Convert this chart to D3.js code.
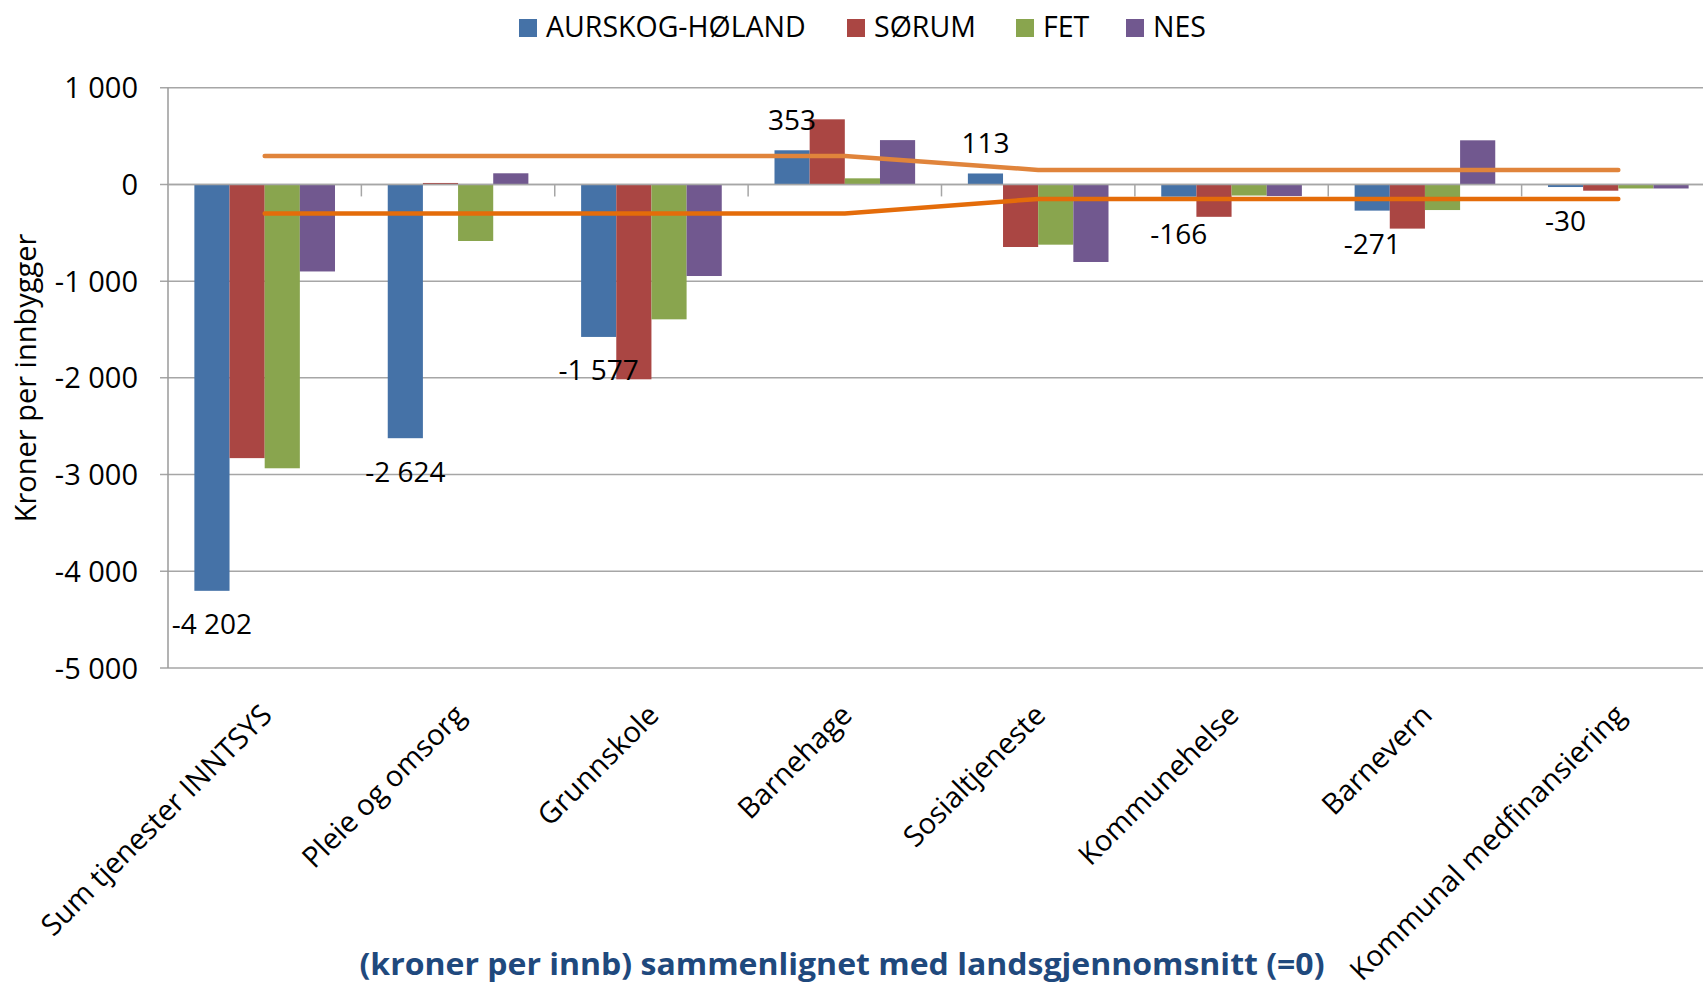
<!DOCTYPE html>
<html>
<head>
<meta charset="utf-8">
<script src="https://cdn.jsdelivr.net/npm/d3@7"></script>
<style>
  body { margin: 0; background: #fff; }
  svg { display: block; font-family: "Open Sans", sans-serif; }
</style>
</head>
<body>
<svg id="chart"></svg>
<script>
// categories along the x axis
const categories = ["Sum tjenester INNTSYS", "Pleie og omsorg", "Grunnskole", "Barnehage",
  "Sosialtjeneste", "Kommunehelse", "Barnevern", "Kommunal medfinansiering"];

const seriesNames = ["AURSKOG-HØLAND", "SØRUM", "FET", "NES"];
const seriesColors = ["#4572A7", "#AA4643", "#89A54E", "#71588F"];

// kroner per innbygger vs landsgjennomsnitt
const aurskogValues = [-4202, -2624, -1577, 353, 113, -127, -271, -27];
const sorumValues = [-2830, 15, -2015, 673, -647, -335, -457, -65];
const fetValues = [-2935, -585, -1395, 63, -623, -115, -265, -42];
const nesValues = [-900, 115, -947, 458, -802, -120, 456, -42];

// data labels shown for AURSKOG-HØLAND
const aurskogLabels = [-4202, -2624, -1577, 353, 113, -166, -271, -30];

// the two orange band lines
const upperLine = [295, 295, 295, 295, 150, 150, 150, 150];
const lowerLine = [-300, -300, -300, -300, -150, -150, -150, -150];

const yTicks = [1000, 0, -1000, -2000, -3000, -4000, -5000];

class BarLineChart {
  constructor(_config) {
    this.config = {
      parentElement: _config.parentElement,
      containerWidth: _config.containerWidth || 1703,
      containerHeight: _config.containerHeight || 985,
      plot: { left: 168, right: 1715, top: 87.7, bottom: 668 }
    };
    this.series = [aurskogValues, sorumValues, fetValues, nesValues];
    this.initVis();
  }

  initVis() {
    let vis = this;
    const p = vis.config.plot;

    vis.svg = d3.select(vis.config.parentElement)
      .attr("width", vis.config.containerWidth)
      .attr("height", vis.config.containerHeight);

    vis.xScale = d3.scaleBand()
      .domain(categories)
      .range([p.left, p.right])
      .paddingInner(0)
      .paddingOuter(0);

    // Excel style gap width 150%
    vis.xSeries = d3.scaleBand()
      .domain(seriesNames)
      .range([0, vis.xScale.bandwidth()])
      .paddingInner(0)
      .paddingOuter(0.75);

    vis.yScale = d3.scaleLinear()
      .domain([-5000, 1000])
      .range([p.bottom, p.top]);

    vis.fmt = d3.formatLocale({ decimal: ",", thousands: " ", grouping: [3], currency: ["", ""], minus: "-" }).format(",d");

    vis.updateVis();
  }

  updateVis() {
    let vis = this;
    const p = vis.config.plot;

    // gridlines
    vis.svg.append("g").attr("class", "grid")
      .selectAll("line")
      .data(yTicks)
      .join("line")
      .attr("x1", p.left - 8)
      .attr("x2", p.right)
      .attr("y1", d => vis.yScale(d))
      .attr("y2", d => vis.yScale(d))
      .attr("stroke", "#a6a6a6")
      .attr("stroke-width", 1.5);

    // y axis line
    vis.svg.append("line")
      .attr("x1", p.left).attr("x2", p.left)
      .attr("y1", p.top).attr("y2", p.bottom)
      .attr("stroke", "#9a9a9a")
      .attr("stroke-width", 1.5);

    // y tick labels
    vis.svg.append("g").attr("class", "y-ticks")
      .selectAll("text")
      .data(yTicks)
      .join("text")
      .attr("x", 138)
      .attr("y", d => vis.yScale(d) + 10.5)
      .attr("text-anchor", "end")
      .attr("font-size", 29)
      .attr("fill", "#000")
      .text(d => vis.fmt(d));

    // bars
    const rows = [];
    categories.forEach((c, i) => {
      seriesNames.forEach((s, j) => rows.push({ cat: c, name: s, idx: j, value: vis.series[j][i] }));
    });

    vis.svg.append("g").attr("class", "bars")
      .selectAll("rect")
      .data(rows)
      .join("rect")
      .attr("x", d => vis.xScale(d.cat) + vis.xSeries(d.name))
      .attr("y", d => vis.yScale(Math.max(0, d.value)))
      .attr("width", vis.xSeries.bandwidth())
      .attr("height", d => Math.abs(vis.yScale(d.value) - vis.yScale(0)))
      .attr("fill", d => seriesColors[d.idx]);

    // category axis at zero with tick marks between categories
    const y0 = vis.yScale(0);
    vis.svg.append("line")
      .attr("x1", p.left).attr("x2", p.right)
      .attr("y1", y0).attr("y2", y0)
      .attr("stroke", "#a6a6a6")
      .attr("stroke-width", 1.5);

    vis.svg.append("g").attr("class", "x-ticks")
      .selectAll("line")
      .data(categories.slice(1))
      .join("line")
      .attr("x1", d => vis.xScale(d))
      .attr("x2", d => vis.xScale(d))
      .attr("y1", y0)
      .attr("y2", y0 + 12)
      .attr("stroke", "#a6a6a6")
      .attr("stroke-width", 1.5);

    // orange band lines
    const line = d3.line()
      .x((d, i) => vis.xScale(categories[i]) + vis.xScale.bandwidth() / 2)
      .y(d => vis.yScale(d));

    vis.svg.append("path")
      .datum(upperLine)
      .attr("d", line)
      .attr("fill", "none")
      .attr("stroke", "#e0843b")
      .attr("stroke-width", 4.5)
      .attr("stroke-linecap", "round")
      .attr("stroke-linejoin", "round");

    vis.svg.append("path")
      .datum(lowerLine)
      .attr("d", line)
      .attr("fill", "none")
      .attr("stroke", "#e46c0a")
      .attr("stroke-width", 4.5)
      .attr("stroke-linecap", "round")
      .attr("stroke-linejoin", "round");

    // data labels for first series
    vis.svg.append("g").attr("class", "data-labels")
      .selectAll("text")
      .data(aurskogLabels)
      .join("text")
      .attr("x", (d, i) => vis.xScale(categories[i]) + vis.xSeries(seriesNames[0]) + vis.xSeries.bandwidth() / 2)
      .attr("y", d => vis.yScale(d) + (d < 0 ? 33.5 : -30) + 10)
      .attr("text-anchor", "middle")
      .attr("font-size", 28)
      .attr("fill", "#000")
      .text(d => vis.fmt(d));

    // category labels, rotated
    vis.svg.append("g").attr("class", "x-labels")
      .selectAll("text")
      .data(categories)
      .join("text")
      .attr("transform", d => `translate(${vis.xScale(d) + vis.xScale.bandwidth() / 2 + 9}, 717) rotate(-45)`)
      .attr("text-anchor", "end")
      .attr("font-size", 29)
      .attr("fill", "#000")
      .text(d => d);

    // y axis title
    vis.svg.append("text")
      .attr("transform", "translate(36, 378) rotate(-90)")
      .attr("text-anchor", "middle")
      .attr("font-size", 29)
      .attr("fill", "#000")
      .text("Kroner per innbygger");

    // x axis title
    vis.svg.append("text")
      .attr("x", 842)
      .attr("y", 975)
      .attr("text-anchor", "middle")
      .attr("font-size", 31)
      .attr("font-weight", "bold")
      .attr("textLength", 965)
      .attr("lengthAdjust", "spacingAndGlyphs")
      .attr("fill", "#1f497d")
      .text("(kroner per innb) sammenlignet med landsgjennomsnitt (=0)");

    // legend
    const legendX = [519, 847, 1016, 1126];
    const legend = vis.svg.append("g").attr("class", "legend")
      .selectAll("g")
      .data(seriesNames)
      .join("g")
      .attr("transform", (d, i) => `translate(${legendX[i]}, 19)`);

    legend.append("rect")
      .attr("width", 18)
      .attr("height", 18)
      .attr("fill", (d, i) => seriesColors[i]);

    legend.append("text")
      .attr("x", 27)
      .attr("y", 18)
      .attr("font-size", 28.5)
      .attr("fill", "#000")
      .text(d => d);
  }
}

const chart = new BarLineChart({ parentElement: "#chart" });
</script>
</body>
</html>
